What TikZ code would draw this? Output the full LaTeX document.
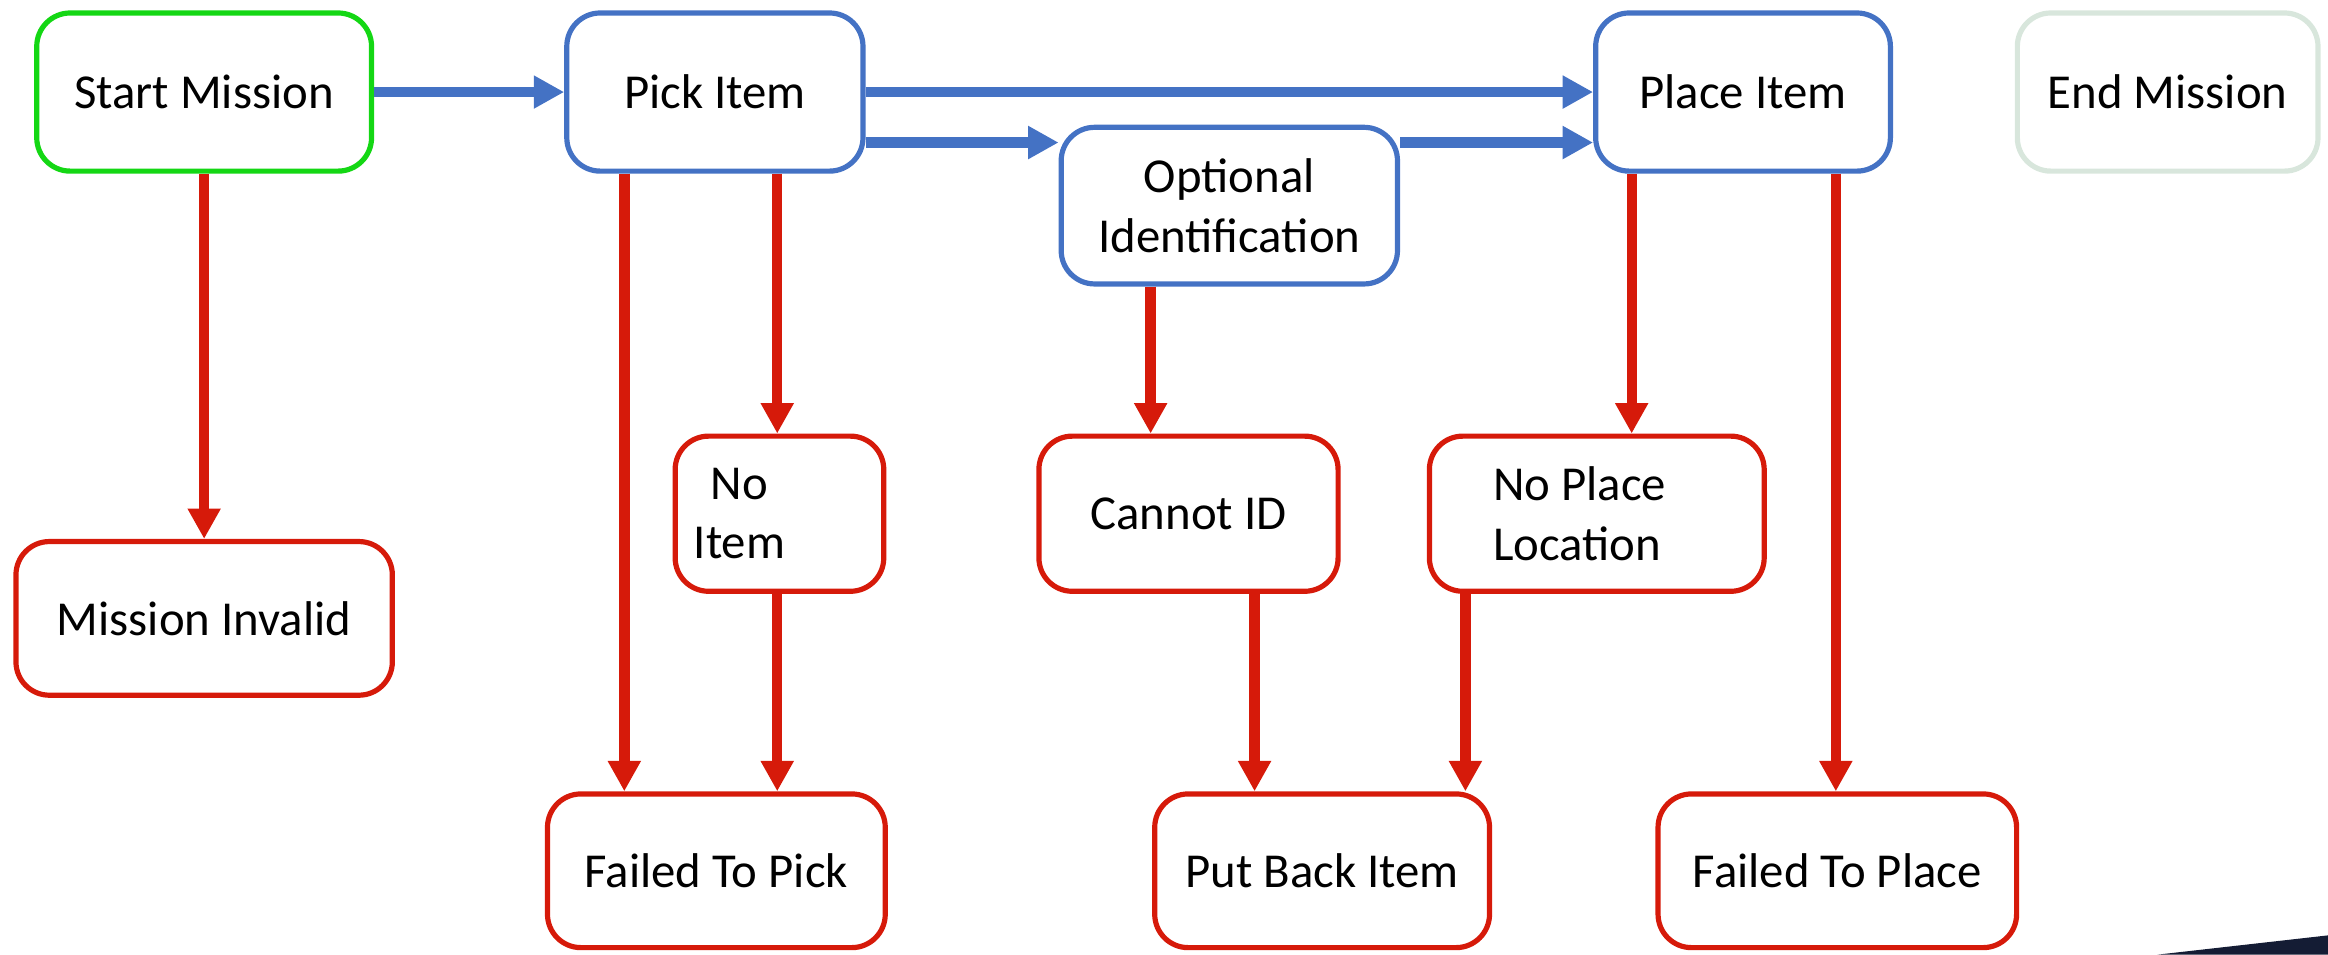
\documentclass[tikz,border=0pt]{standalone}
\usepackage{fontspec}
\setmainfont{Carlito}
\usetikzlibrary{arrows.meta}
\definecolor{startgreen}{RGB}{20,215,20}
\definecolor{stepblue}{RGB}{68,114,196}
\definecolor{failred}{RGB}{214,26,10}
\definecolor{endgray}{RGB}{216,230,220}
\definecolor{slidenavy}{RGB}{20,28,52}

\begin{document}
\begin{tikzpicture}[x=0.2mm,y=-0.2mm,
  k/.style={rectangle,draw,line width=0.7mm,rounded corners=4.5mm,minimum height=21.3mm,align=center,inner sep=0pt,font=\fontsize{18.7}{22.8}\selectfont},
  go/.style={k,draw=stepblue},
  bad/.style={k,draw=failred,minimum height=20.9mm},
  t/.style={inner sep=0pt,font=\fontsize{18.7}{22.8}\selectfont},
  fw/.style={line width=1.4mm,stepblue,-{Triangle[length=4.1mm,width=4.2mm]}},
  bw/.style={line width=1.4mm,failred,-{Triangle[length=4.1mm,width=4.2mm]}}]
  \useasboundingbox (0,0) rectangle (1568,643);

  % top row
  \node[k,draw=startgreen,minimum width=45.1mm] (start) at (137.5,62) {Start Mission};
  \node[go,minimum width=39.9mm] (pick) at (481.5,62) {Pick Item};
  \node[go,minimum width=45.3mm,minimum height=21.1mm] (optid) at (828,138.5) {Optional\\Identification};
  \node[go,minimum width=39.7mm] (place) at (1174,62) {Place Item};
  \node[k,draw=endgray,minimum width=40.5mm] (endm) at (1460,62) {End Mission};

  % failures
  \node[bad,minimum width=50.7mm,minimum height=20.7mm] (invalid) at (137.5,416.5) {Mission Invalid};
  \node[bad,minimum width=28.1mm] (noitem) at (525,346) {};
  \node[t,align=center] (noitemtext) at (498,346) {No\\Item};
  \node[bad,minimum width=40.3mm] (cannotid) at (800.5,346) {Cannot ID};
  \node[bad,minimum width=45.1mm] (noplace) at (1075.5,346) {};
  \node[t,align=left] (noplacetext) at (1064,346) {No Place\\Location};
  \node[bad,minimum width=45.5mm,minimum height=20.7mm] (fpick) at (482.5,586.5) {Failed To Pick};
  \node[bad,minimum width=45.1mm,minimum height=20.7mm] (putback) at (890.5,586.5) {Put Back Item};
  \node[bad,minimum width=48.3mm,minimum height=20.7mm] (fplace) at (1237.5,586.5) {Failed To Place};

  \draw[fw] (start) -- (pick);
  \draw[fw] (pick) -- (place);
  \draw[fw] ([yshift=-6.8mm]pick.east) -- ([yshift=-6.8mm]pick.east -| optid.west);
  \draw[fw] ([yshift=8.5mm]optid.east) -- ([yshift=8.5mm]optid.east -| place.west);

  \draw[bw] (start) -- (invalid);
  \draw[bw] ([xshift=-12.2mm]pick.south) -- ([xshift=-12.2mm]pick.south |- fpick.north);
  \draw[bw] ([xshift=8.4mm]pick.south) -- ([xshift=8.4mm]pick.south |- noitem.north);
  \draw[bw] ([xshift=-0.3mm]noitem.south) -- ([xshift=-0.3mm]noitem.south |- fpick.north);
  \draw[bw] ([xshift=-10.6mm]optid.south) -- ([xshift=-10.6mm]optid.south |- cannotid.north);
  \draw[bw] ([xshift=8.9mm]cannotid.south) -- ([xshift=8.9mm]cannotid.south |- putback.north);
  \draw[bw] ([xshift=-17.7mm]noplace.south) -- ([xshift=-17.7mm]noplace.south |- putback.north);
  \draw[bw] ([xshift=-15mm]place.south) -- ([xshift=-15mm]place.south |- noplace.north);
  \draw[bw] ([xshift=12.5mm]place.south) -- ([xshift=12.5mm]place.south |- fplace.north);

  % slide corner
  \fill[slidenavy] (1453,643) -- (1568,630) -- (1568,643) -- cycle;
\end{tikzpicture}
\end{document}
